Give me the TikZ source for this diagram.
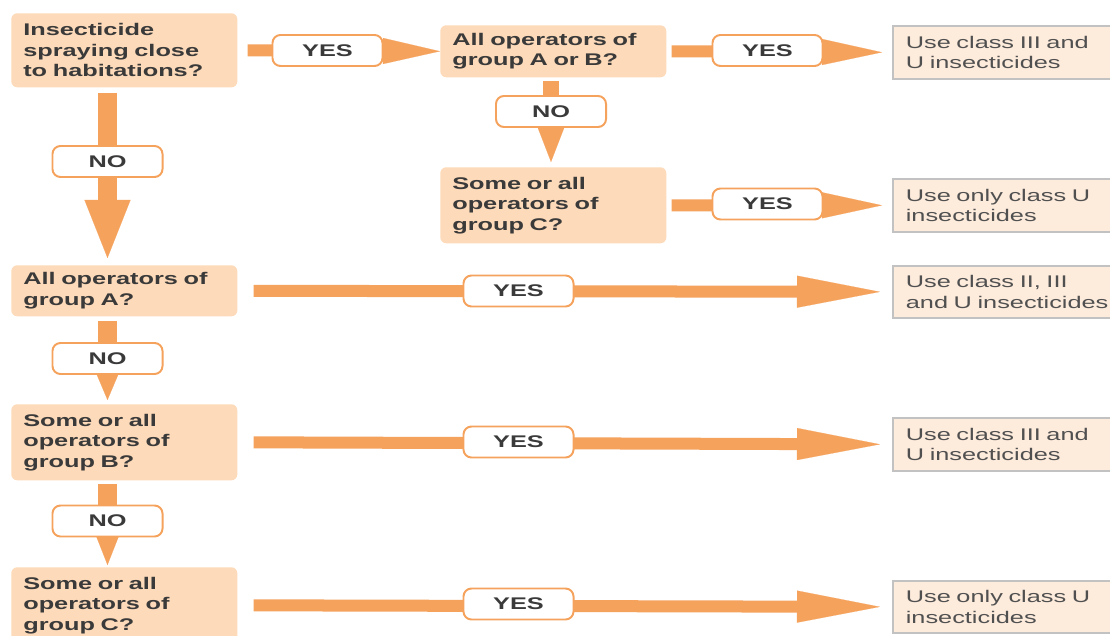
\documentclass[tikz,border=0pt]{standalone}
\usepackage{fontspec}
\newfontfamily\flowfont{Liberation Sans}[FakeStretch=1.5]
\usetikzlibrary{arrows.meta,backgrounds}
\definecolor{arrorange}{HTML}{F5A25D}
\definecolor{questfill}{HTML}{FDDAB9}
\definecolor{usefill}{HTML}{FDEBDC}
\definecolor{usegray}{HTML}{C2C2C2}
\definecolor{darktext}{HTML}{3A3A3A}
\definecolor{usetext}{HTML}{505050}

\begin{document}
\begin{tikzpicture}[x=0.025cm,y=-0.025cm,
    quest/.style={anchor=north west, fill=questfill, rounded corners=0.15cm,
      text width=5.05cm, inner xsep=0.3cm, inner ysep=0pt, align=left,
      text=darktext, font=\flowfont\fontsize{12}{14.6}\selectfont\bfseries},
    use/.style={anchor=north west, draw=usegray, line width=1.2pt, fill=usefill,
      text width=5.35cm, inner xsep=0.325cm, inner ysep=0pt, align=left,
      text=usetext, font=\flowfont\fontsize{12}{14.6}\selectfont},
    answer/.style={draw=arrorange, line width=1.4pt, fill=white, rounded corners=0.2cm,
      minimum width=2.75cm, minimum height=0.775cm, inner sep=0pt,
      text=darktext, font=\flowfont\fontsize{12}{14.6}\selectfont\bfseries},
    flow/.style n args={3}{draw=arrorange, line width=#1,
      -{Triangle[length=#2, width=#3, line width=0.1pt]}}]
  \useasboundingbox (0,0) rectangle (1110,636);
  \clip (0,0) rectangle (1110,636);

  \node[quest, minimum height=1.85cm] (q1) at (11,13) {Insecticide\\spraying close\\to habitations?};
  \node[quest, minimum height=1.3cm] (q2) at (440,25) {All operators of\\group A or B?};
  \node[quest, minimum height=1.9cm] (q3) at (440,167) {Some or all\\operators of\\group C?};
  \node[quest, minimum height=1.275cm] (q4) at (11,265) {All operators of\\group A?};
  \node[quest, minimum height=1.9cm] (q5) at (11,404) {Some or all\\operators of\\group B?};
  \node[quest, minimum height=1.9cm] (q6) at (11,567) {Some or all\\operators of\\group C?};

  \node[use, minimum height=1.325cm] (r1) at (892,25) {Use class III and\\U insecticides};
  \node[use, minimum height=1.325cm] (r2) at (892,178) {Use only class U\\insecticides};
  \node[use, minimum height=1.3cm] (r3) at (892,265) {Use class II, III\\and U insecticides};
  \node[use, minimum height=1.325cm] (r4) at (892,417) {Use class III and\\U insecticides};
  \node[use, minimum height=1.3cm] (r5) at (892,580) {Use only class U\\insecticides};

  \node[answer] (yes1) at (327.5,50.5) {YES};
  \node[answer] (yes2) at (767.5,50.5) {YES};
  \node[answer] (no1) at (551,111.5) {NO};
  \node[answer] (yes3) at (767.5,204) {YES};
  \node[answer] (no2) at (107.5,161.5) {NO};
  \node[answer] (yes4) at (518.5,291) {YES};
  \node[answer] (no3) at (107.5,358.5) {NO};
  \node[answer] (yes5) at (518.5,442) {YES};
  \node[answer] (no4) at (107.5,521) {NO};
  \node[answer] (yes6) at (518.5,604) {YES};

  \begin{scope}[on background layer]
    \draw[flow={0.3cm}{1.425cm}{0.65cm}, shorten <=0.25cm] (q1.east) -- (q2.west);
    \draw[flow={0.3cm}{1.5cm}{0.65cm}, shorten <=0.125cm, shorten >=0.25cm] (q2.east) -- (r1.west);
    \draw[flow={0.4cm}{0.875cm}{0.675cm}, shorten <=0.075cm, shorten >=0.125cm] (q2.south -| no1) -- (q3.north -| no1);
    \draw[flow={0.3cm}{1.5cm}{0.65cm}, shorten <=0.125cm, shorten >=0.25cm] (q3.east) -- (r2.west);
    \draw[flow={0.475cm}{1.45cm}{1.15cm}, shorten <=0.125cm, shorten >=0.175cm] (q1.south -| no2) -- (q4.north -| no2);
    \draw[flow={0.3cm}{2.075cm}{0.8cm}, shorten <=0.4cm, shorten >=0.3cm] (q4.east) -- (r3.west);
    \draw[flow={0.45cm}{0.65cm}{0.55cm}, shorten <=0.1cm, shorten >=0.1cm] (q4.south -| no3) -- (q5.north -| no3);
    \draw[flow={0.3cm}{2.075cm}{0.8cm}, shorten <=0.4cm, shorten >=0.3cm] (q5.east) -- (r4.west);
    \draw[flow={0.45cm}{0.7cm}{0.55cm}, shorten <=0.075cm, shorten >=0.05cm] (q5.south -| no4) -- (q6.north -| no4);
    \draw[flow={0.3cm}{2.075cm}{0.8cm}, shorten <=0.4cm, shorten >=0.3cm] (q6.east) -- (r5.west);
  \end{scope}
\end{tikzpicture}
\end{document}
